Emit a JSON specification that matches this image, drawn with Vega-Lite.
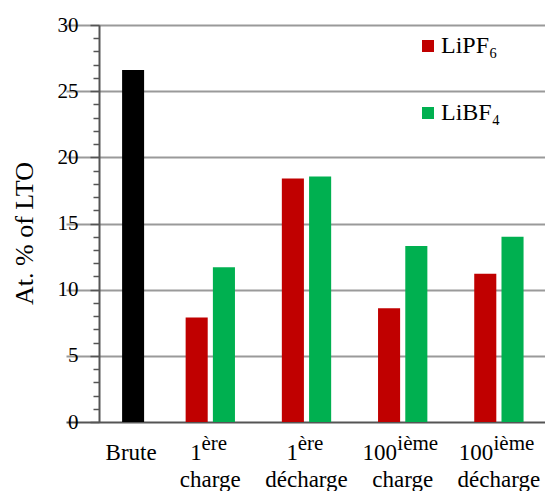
{
  "$schema": "https://vega.github.io/schema/vega-lite/v6.json",
  "width": 446,
  "height": 397,
  "autosize": {"type": "none"},
  "padding": {"left": 99, "top": 25, "right": 0, "bottom": 69},
  "background": "#ffffff",
  "config": {"view": {"stroke": null}},
  "data": {
    "values": [
      {"cat": "Brute", "series": "Brute", "value": 26.6},
      {"cat": "1ère charge", "series": "LiPF₆", "value": 7.9},
      {"cat": "1ère charge", "series": "LiBF₄", "value": 11.7},
      {"cat": "1ère décharge", "series": "LiPF₆", "value": 18.4},
      {"cat": "1ère décharge", "series": "LiBF₄", "value": 18.55},
      {"cat": "100ième charge", "series": "LiPF₆", "value": 8.6},
      {"cat": "100ième charge", "series": "LiBF₄", "value": 13.3},
      {"cat": "100ième décharge", "series": "LiPF₆", "value": 11.2},
      {"cat": "100ième décharge", "series": "LiBF₄", "value": 14.0}
    ]
  },
  "resolve": {
    "scale": {"x": "shared", "y": "shared", "xOffset": "independent"},
    "axis": {"x": "independent", "y": "independent"}
  },
  "layer": [
    {
      "transform": [{"filter": "datum.series === 'Brute'"}],
      "mark": {"type": "bar", "color": "#000000", "width": 22, "xOffset": 19},
      "encoding": {
        "x": {
          "field": "cat",
          "type": "nominal",
          "scale": {
            "domain": ["Brute", "1ère charge", "1ère décharge", "100ième charge", "100ième décharge"],
            "range": [-33, 448],
            "paddingInner": 0,
            "paddingOuter": 0
          },
          "axis": {
            "orient": "bottom",
            "title": null,
            "domain": false,
            "ticks": false,
            "tickSize": 0,
            "grid": false,
            "labelAngle": 0,
            "labelFont": "Liberation Serif",
            "labelColor": "#000000",
            "labelExpr": "datum.value === 'Brute' ? 'Brute' : (indexof(datum.value, '100') === 0 ? 'ième' : 'ère')",
            "labelFontSize": {"condition": {"test": "datum.value === 'Brute'", "value": 23}, "value": 21},
            "labelPadding": {"condition": {"test": "datum.value === 'Brute'", "value": 19}, "value": 10},
            "labelOffset": {
              "condition": [
                {"test": "datum.value === 'Brute'", "value": 17},
                {"test": "indexof(datum.value, '100') === 0", "value": 15}
              ],
              "value": 4
            }
          }
        },
        "y": {
          "field": "value",
          "type": "quantitative",
          "scale": {"domain": [0, 30], "nice": false, "zero": true},
          "axis": {
            "orient": "left",
            "values": [0, 5, 10, 15, 20, 25, 30],
            "title": "At. % of LTO",
            "titleFont": "Liberation Serif",
            "titleFontSize": 26,
            "titleFontWeight": "normal",
            "titleColor": "#000000",
            "titleAngle": -90,
            "titleAlign": "center",
            "titleBaseline": "alphabetic",
            "titleX": -67,
            "titleY": 208,
            "labelFont": "Liberation Serif",
            "labelFontSize": 21,
            "labelColor": "#000000",
            "labelPadding": 12,
            "tickSize": 9,
            "tickColor": "#555555",
            "tickWidth": 1.5,
            "domainColor": "#555555",
            "domainWidth": 2,
            "grid": true,
            "gridWidth": 2,
            "gridColor": {"condition": {"test": "datum.value === 0", "value": "#555555"}, "value": "#9a9a9a"}
          }
        }
      }
    },
    {
      "transform": [{"filter": "datum.series !== 'Brute'"}],
      "mark": {"type": "bar"},
      "encoding": {
        "x": {
          "field": "cat",
          "type": "nominal",
          "axis": {
            "orient": "bottom",
            "title": null,
            "domain": false,
            "ticks": false,
            "tickSize": 0,
            "grid": false,
            "labelAngle": 0,
            "labelFont": "Liberation Serif",
            "labelFontSize": 23,
            "labelColor": "#000000",
            "labelPadding": 19,
            "labelLineHeight": 27,
            "labelExpr": "datum.value === 'Brute' ? '' : [indexof(datum.value, '100') === 0 ? '100\u00a0\u00a0\u00a0\u00a0\u00a0\u00a0\u00a0\u00a0\u200b' : '1\u00a0\u00a0\u00a0\u00a0\u00a0\u200b', indexof(datum.value, 'décharge') >= 0 ? 'décharge' : 'charge']"
          }
        },
        "xOffset": {
          "field": "series",
          "type": "nominal",
          "scale": {"domain": ["LiPF₆", "LiBF₄"], "paddingInner": 0.19, "paddingOuter": 0.86}
        },
        "y": {
          "field": "value",
          "type": "quantitative",
          "axis": {
            "orient": "left",
            "values": [1, 2, 3, 4, 6, 7, 8, 9, 11, 12, 13, 14, 16, 17, 18, 19, 21, 22, 23, 24, 26, 27, 28, 29],
            "title": null,
            "labels": false,
            "domain": false,
            "grid": false,
            "tickSize": 6,
            "tickColor": "#555555",
            "tickWidth": 1.5
          }
        },
        "color": {
          "field": "series",
          "type": "nominal",
          "scale": {"domain": ["LiPF₆", "LiBF₄"], "range": ["#C00000", "#00B050"]},
          "legend": {
            "orient": "none",
            "legendX": 317,
            "legendY": 9,
            "title": null,
            "padding": 0,
            "symbolType": "square",
            "symbolSize": 144,
            "symbolStrokeWidth": 0,
            "symbolOpacity": 1,
            "labelFont": "Liberation Serif",
            "labelFontSize": 24,
            "labelColor": "#000000",
            "labelOffset": 1,
            "rowPadding": 43
          }
        }
      }
    }
  ]
}
